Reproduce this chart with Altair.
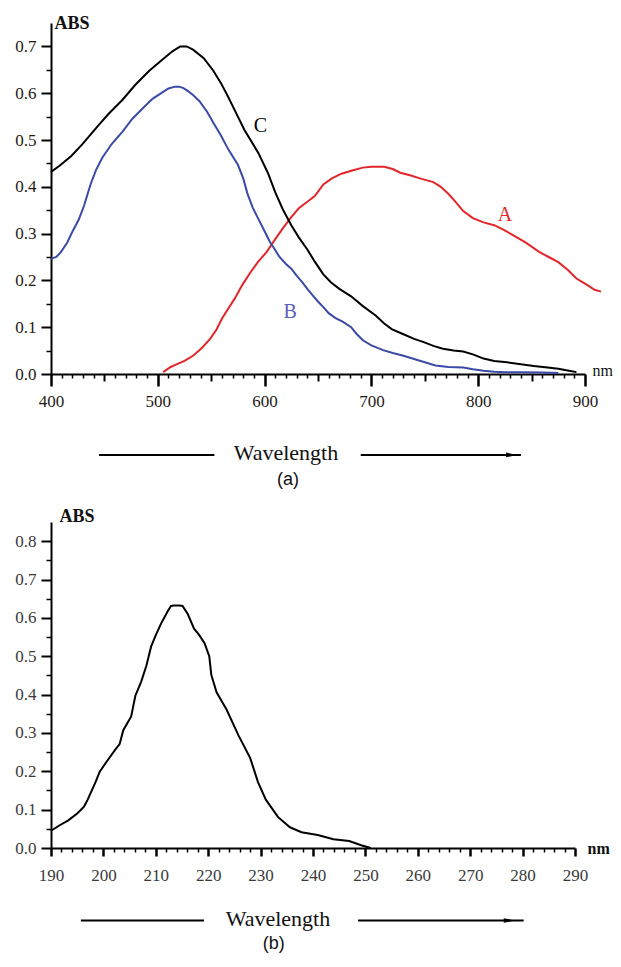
import altair as alt
import pandas as pd

SERIF = "Liberation Serif"
SANS = "Liberation Sans"

# ---------------- panel (a) data ----------------
wl_a = [505,512,518,525,533,541,549,555,560,566,572,579,587,594,602,609,617,625,632,640,
        647,655,663,672,682,692,700,712,720,727,737,747,758,765,772,778,786,795,805,815,
        824,833,845,857,866,875,884,892,898,903,909,915]
abs_a = [0.004,0.015,0.021,0.028,0.039,0.055,0.075,0.095,0.118,0.14,0.161,0.19,0.218,0.24,0.261,0.285,0.311,0.335,0.354,0.368,
         0.38,0.405,0.418,0.428,0.435,0.441,0.443,0.443,0.438,0.43,0.424,0.417,0.41,0.40,0.385,0.37,0.348,0.333,0.324,0.318,
         0.308,0.296,0.28,0.261,0.25,0.239,0.222,0.204,0.196,0.189,0.18,0.176]

wl_b = [400,405,409,415,420,426,431,437,442,448,457,467,476,486,495,505,510,516,520,524,
        528,533,539,546,552,559,566,575,580,584,589,594,600,605,609,614,620,625,630,635,
        640,645,650,655,660,666,673,681,686,692,700,711,720,730,740,750,760,772,786,795,
        805,815,825,840,860,875]
abs_b = [0.246,0.25,0.26,0.28,0.304,0.33,0.36,0.405,0.435,0.462,0.492,0.518,0.545,0.568,0.588,0.603,0.61,0.614,0.614,0.611,
         0.605,0.596,0.583,0.561,0.537,0.51,0.48,0.447,0.418,0.385,0.355,0.332,0.305,0.282,0.268,0.25,0.235,0.225,0.21,0.197,
         0.182,0.168,0.155,0.143,0.13,0.12,0.112,0.1,0.086,0.072,0.061,0.051,0.045,0.039,0.032,0.025,0.018,0.015,0.014,0.01,
         0.007,0.005,0.004,0.004,0.003,0.002]

wl_c = [400,408,419,429,438,445,454,467,479,492,505,514,521,527,533,543,552,559,565,575,
        581,594,603,610,617,625,632,640,647,655,662,670,681,692,704,712,719,730,740,749,
        758,767,777,786,795,805,815,827,840,852,865,875,885,892]
abs_c = [0.432,0.445,0.466,0.49,0.514,0.533,0.556,0.586,0.618,0.648,0.673,0.69,0.7,0.7,0.693,0.675,0.648,0.622,0.596,0.55,
         0.522,0.473,0.43,0.388,0.352,0.318,0.292,0.266,0.24,0.213,0.196,0.182,0.166,0.145,0.125,0.108,0.096,0.085,0.075,0.068,
         0.06,0.054,0.05,0.048,0.042,0.033,0.028,0.025,0.021,0.017,0.014,0.011,0.007,0.004]

series_names = ["A", "B", "C"]
series_colors = ["#e3262b", "#3b4aa6", "#000000"]

curve_labels = ["A", "B", "C"]
curve_label_wl = [825, 624, 596]
curve_label_abs = [0.34, 0.132, 0.529]
curve_label_colors = ["#e3262b", "#5a5cb8", "#000000"]

# ---------------- panel (b) data ----------------
wl_d = [190,191.5,193.3,195,196.3,197,198.5,199.3,200.4,202.3,203.1,203.8,205.3,206.1,207.2,208.2,209.1,210,211,212.3,
        212.9,213.5,214.5,215.1,216.1,217.3,218.3,219.3,220.2,220.6,221.6,223.5,225.8,228,229.5,231,233.3,235.6,237.8,240.9,
        243.9,246.9,249.2,251]
abs_d = [0.045,0.058,0.072,0.09,0.108,0.126,0.172,0.199,0.221,0.257,0.271,0.307,0.343,0.397,0.433,0.475,0.525,0.555,0.585,0.618,
         0.631,0.632,0.632,0.631,0.61,0.572,0.555,0.534,0.5,0.451,0.406,0.361,0.293,0.235,0.172,0.126,0.081,0.054,0.041,0.034,
         0.023,0.018,0.007,0.0]

# ---------------- axis ticks ----------------
xa_major = [400, 500, 600, 700, 800, 900]
xa_medium = [450, 550, 650, 750, 850]
xa_minor = [410,420,430,440,460,470,480,490,510,520,530,540,560,570,580,590,
            610,620,630,640,660,670,680,690,710,720,730,740,760,770,780,790,
            810,820,830,840,860,870,880,890]
ya_major = [0.0, 0.1, 0.2, 0.3, 0.4, 0.5, 0.6, 0.7]
ya_minor = [0.05, 0.15, 0.25, 0.35, 0.45, 0.55, 0.65]

xb_major = [190, 200, 210, 220, 230, 240, 250, 260, 270, 280, 290]
xb_minor = [192,194,196,198,202,204,206,208,212,214,216,218,222,224,226,228,
            232,234,236,238,242,244,246,248,252,254,256,258,262,264,266,268,
            272,274,276,278,282,284,286,288]
yb_major = [0.0, 0.1, 0.2, 0.3, 0.4, 0.5, 0.6, 0.7, 0.8]
yb_minor = [0.05, 0.15, 0.25, 0.35, 0.45, 0.55, 0.65, 0.75]

# ---------------- annotation data (wavelength arrow) ----------------
arrow_a_x1 = [445, 690]
arrow_a_x2 = [553, 840]
arrow_a_y = [-0.173, -0.173]
arrow_a_head = [831]
wave_a_pos = [620, -0.169]
cap_a_pos = [622, -0.226]

arrow_b_x1 = [195.7, 248.6]
arrow_b_x2 = [219.2, 280.2]
arrow_b_y = [-0.189, -0.189]
arrow_b_head = [277.4]
wave_b_pos = [233.3, -0.185]
cap_b_pos = [232.5, -0.25]

ARROW = "M-1,-0.45L1,0L-1,0.45Z"


def minor_axis(values, size, orient, width=1.5):
    return alt.Axis(values=values, orient=orient, domain=False, labels=False,
                    ticks=True, tickSize=size, tickWidth=width, tickColor="black",
                    grid=False, title=None)


def panel(lines_df, xdom, ydom, W, H, xmaj, xmed, xmin, ymaj, ymin,
          rules_df, head_df, wave_df, cap_df, labels_df, lab_color, nm_x, nm_y,
          nm_weight, abs_x, abs_y, xmaj_size, xlabpad, wave_size):
    xs = alt.Scale(domain=xdom, nice=False, zero=False, padding=0)
    ys = alt.Scale(domain=ydom, nice=False, zero=False, padding=0)

    x_major_axis = alt.Axis(values=xmaj, orient="bottom", tickSize=xmaj_size, tickWidth=2.5,
                            tickColor="black", domainColor="black", domainWidth=2,
                            labelFont=SERIF, labelFontSize=17, labelColor=lab_color,
                            labelPadding=xlabpad, labelFlush=False, labelOverlap=False,
                            grid=False, title="nm", titleFont=SERIF, titleFontSize=16,
                            titleFontWeight=nm_weight, titleColor="#111",
                            titleX=nm_x, titleY=nm_y, titleAlign="left",
                            titleBaseline="alphabetic")
    y_major_axis = alt.Axis(values=ymaj, orient="left", format=".1f", tickSize=10,
                            tickWidth=2, tickColor="black", domainColor="black",
                            domainWidth=2, labelFont=SERIF, labelFontSize=17,
                            labelColor=lab_color, labelPadding=5, labelOverlap=False,
                            labelFlush=False, grid=False,
                            title="ABS", titleAngle=0, titleAlign="left",
                            titleBaseline="alphabetic", titleX=abs_x, titleY=abs_y,
                            titleFont=SERIF, titleFontSize=18, titleFontWeight="bold",
                            titleColor="#111")

    lines = alt.Chart(lines_df).mark_line(strokeWidth=2).encode(
        x=alt.X("wl:Q", scale=xs, axis=x_major_axis),
        y=alt.Y("abs:Q", scale=ys, axis=y_major_axis),
        color=alt.Color("s:N", scale=alt.Scale(domain=series_names, range=series_colors),
                        legend=None),
    )

    rules = alt.Chart(rules_df).mark_rule(strokeWidth=2, color="black").encode(
        x=alt.X("x1:Q", scale=xs,
                axis=minor_axis(xmed if xmed else xmin, 7 if xmed else 4, "bottom", 2 if xmed else 1.5)),
        x2="x2:Q",
        y=alt.Y("y:Q", scale=ys, axis=minor_axis(ymin, 5, "left")),
    )

    head = alt.Chart(head_df).mark_point(shape=ARROW, filled=True, size=110,
                                         color="black", opacity=1).encode(
        x=alt.X("wl:Q", scale=xs, axis=minor_axis(xmin, 4, "bottom") if xmed else None),
        y=alt.Y("abs:Q", scale=ys, axis=None),
    )

    wave = alt.Chart(wave_df).mark_text(font=SERIF, fontSize=wave_size, color="#111",
                                        baseline="middle", align="center").encode(
        x=alt.X("wl:Q", scale=xs, axis=None),
        y=alt.Y("abs:Q", scale=ys, axis=None),
        text="t:N",
    )

    cap = alt.Chart(cap_df).mark_text(font=SANS, fontSize=18, color="#111",
                                      baseline="middle", align="center").encode(
        x=alt.X("wl:Q", scale=xs, axis=None),
        y=alt.Y("abs:Q", scale=ys, axis=None),
        text="t:N",
    )

    layers = [lines, rules, head, wave, cap]
    if labels_df is not None:
        labs = alt.Chart(labels_df).mark_text(font=SERIF, fontSize=20,
                                              baseline="middle", align="center").encode(
            x=alt.X("wl:Q", scale=xs, axis=None),
            y=alt.Y("abs:Q", scale=ys, axis=None),
            text="t:N",
            color=alt.Color("c:N", scale=None),
        )
        layers.append(labs)

    return alt.layer(*layers).resolve_axis(x="independent", y="independent").properties(
        width=W, height=H)


lines_a_df = pd.concat([
    pd.DataFrame({"wl": wl_a, "abs": abs_a, "s": "A"}),
    pd.DataFrame({"wl": wl_b, "abs": abs_b, "s": "B"}),
    pd.DataFrame({"wl": wl_c, "abs": abs_c, "s": "C"}),
], ignore_index=True)
lines_b_df = pd.DataFrame({"wl": wl_d, "abs": abs_d, "s": "C"})

rules_a_df = pd.DataFrame({"x1": arrow_a_x1, "x2": arrow_a_x2, "y": arrow_a_y})
rules_b_df = pd.DataFrame({"x1": arrow_b_x1, "x2": arrow_b_x2, "y": arrow_b_y})
head_a_df = pd.DataFrame({"wl": arrow_a_head, "abs": [arrow_a_y[1]]})
head_b_df = pd.DataFrame({"wl": arrow_b_head, "abs": [arrow_b_y[1]]})
wave_a_df = pd.DataFrame({"wl": [wave_a_pos[0]], "abs": [wave_a_pos[1]], "t": ["Wavelength"]})
wave_b_df = pd.DataFrame({"wl": [wave_b_pos[0]], "abs": [wave_b_pos[1]], "t": ["Wavelength"]})
cap_a_df = pd.DataFrame({"wl": [cap_a_pos[0]], "abs": [cap_a_pos[1]], "t": ["(a)"]})
cap_b_df = pd.DataFrame({"wl": [cap_b_pos[0]], "abs": [cap_b_pos[1]], "t": ["(b)"]})
labels_a_df = pd.DataFrame({"wl": curve_label_wl, "abs": curve_label_abs,
                            "t": curve_labels, "c": curve_label_colors})

top = panel(lines_a_df, [400, 900], [0, 0.75], 534, 351,
            xa_major, xa_medium, xa_minor, ya_major, ya_minor,
            rules_a_df, head_a_df, wave_a_df, cap_a_df, labels_a_df, "#1e1a16",
            541, 1, "normal", 3, 5.5, 12, 7, 22)

bottom = panel(lines_b_df, [190, 290], [0, 0.85], 524, 326,
               xb_major, None, xb_minor, yb_major, yb_minor,
               rules_b_df, head_b_df, wave_b_df, cap_b_df, None, "#3a3a3a",
               536, 5, "bold", 8, -1, 8, 11, 22)

chart = alt.vconcat(top, bottom, spacing=18).properties(
    padding={"left": 6, "top": 6, "right": 0, "bottom": 0}
).configure_view(stroke=None).configure_axis(grid=False)

chart.save("out.html", embed_options={"renderer": "svg", "actions": False})
